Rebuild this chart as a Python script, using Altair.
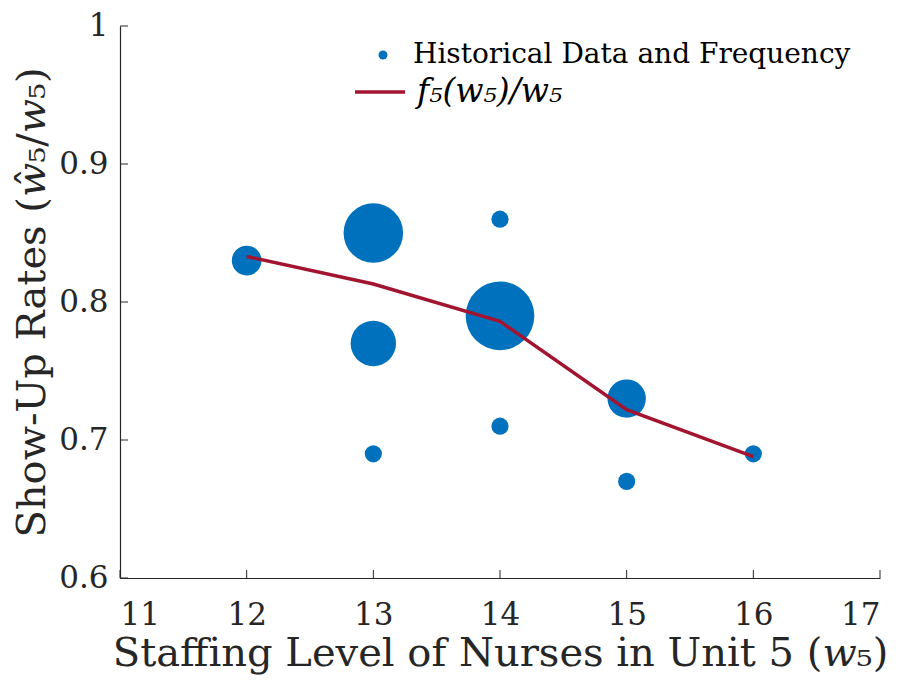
import altair as alt
import pandas as pd

# Historical data (staffing level, show-up rate, frequency)
hist_x = [12, 13, 13, 13, 14, 14, 14, 15, 15, 16]
hist_y = [0.83, 0.85, 0.77, 0.69, 0.86, 0.79, 0.71, 0.73, 0.67, 0.69]
hist_freq = [3, 12, 7, 1, 1, 16, 1, 5, 1, 1]

# Fitted curve f5(w5)/w5
fit_x = [12, 13, 14, 15, 16]
fit_y = [0.833, 0.813, 0.786, 0.722, 0.688]

x_ticks = [11, 12, 13, 14, 15, 16, 17]
y_ticks = [0.6, 0.7, 0.8, 0.9, 1.0]

LEG_PTS = "Historical Data and Frequency"
LEG_LINE = "f₅(w₅)/w₅"
X_TITLE = "Staffing Level of Nurses in Unit 5 (𝑤₅)"
Y_TITLE = "Show-Up Rates (𝑤̂₅/𝑤₅)"

FONT = "DejaVu Serif"
AX = "#262626"
W, H = 760, 552

pts = pd.DataFrame({"x": hist_x, "y": hist_y, "freq": hist_freq, "label": LEG_PTS})
fit = pd.DataFrame({"x": fit_x, "y": fit_y, "label2": LEG_LINE})
xt = pd.DataFrame({"x": x_ticks})
yt = pd.DataFrame({"y": y_ticks})

xscale = alt.Scale(domain=[11, 17], nice=False, zero=False)
yscale = alt.Scale(domain=[0.6, 1.0], nice=False, zero=False)


def X():
    return alt.X("x:Q", scale=xscale, title=X_TITLE,
                 axis=alt.Axis(values=x_ticks, format="~g", ticks=False, grid=False,
                               labelPadding=22, titlePadding=3))


def Y():
    return alt.Y("y:Q", scale=yscale, title=Y_TITLE,
                 axis=alt.Axis(values=y_ticks, format="~g", ticks=False, grid=False,
                               labelPadding=12, titlePadding=6))


points = alt.Chart(pts).mark_circle(opacity=1).encode(
    x=X(), y=Y(),
    size=alt.Size("freq:Q", scale=alt.Scale(domain=[0, 16], range=[0, 4720]), legend=None),
    color=alt.Color("label:N", scale=alt.Scale(domain=[LEG_PTS], range=["#0072BD"]),
                    legend=alt.Legend(title=None, orient="none", legendX=249, legendY=15,
                                      symbolType="circle", symbolSize=80, symbolOpacity=1,
                                      labelFontSize=28, labelLimit=700, labelOffset=16,
                                      padding=0)),
)

line = alt.Chart(fit).mark_line(strokeWidth=3.5).encode(
    x=X(), y=Y(),
    stroke=alt.Stroke("label2:N", scale=alt.Scale(domain=[LEG_LINE], range=["#A2142F"]),
                      legend=alt.Legend(title=None, orient="none", legendX=233, legendY=39,
                                        symbolType="stroke", symbolSize=2500,
                                        symbolStrokeWidth=3.5, labelFontSize=33,
                                        labelFontStyle="italic", labelLimit=700,
                                        labelOffset=10, padding=0)),
)

yticks = alt.Chart(yt).mark_rule(color=AX, strokeWidth=1).encode(
    y=Y(), x=alt.value(0), x2=alt.value(8))
xticks = alt.Chart(xt).mark_rule(color=AX, strokeWidth=1).encode(
    x=X(), y=alt.value(H), y2=alt.value(H - 8))

chart = alt.layer(points, line, yticks, xticks).properties(
    width=W, height=H,
    autosize=alt.AutoSizeParams(type="none"),
    padding={"left": 112, "top": 18, "right": 12, "bottom": 103},
).configure_view(stroke=None).configure_axis(
    domainColor=AX, domainWidth=1.2, labelColor=AX, titleColor=AX,
    labelFont=FONT, titleFont=FONT, labelFontSize=31, titleFontSize=40,
    titleFontWeight="normal",
).configure_legend(labelFont=FONT, labelColor="#000000")

chart.save("out.html", embed_options={"renderer": "svg", "actions": False})
